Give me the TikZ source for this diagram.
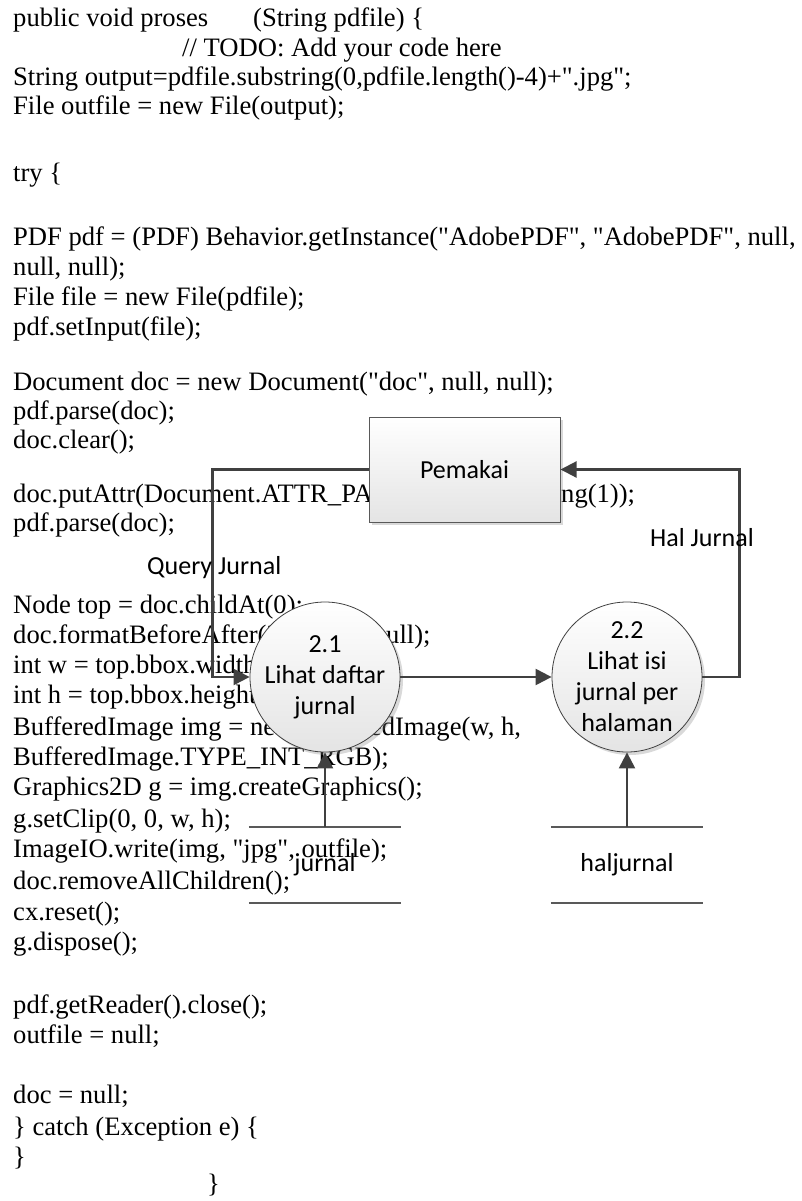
\documentclass[tikz,border=0pt]{standalone}
\usepackage{fontspec}
\setmainfont{Liberation Serif}[Ligatures=TeXOff]
\newfontfamily\dfdfont{Carlito}
\usetikzlibrary{arrows.meta,shadows}
\definecolor{cLine}{HTML}{404040}
\definecolor{cEdge}{HTML}{595959}
\definecolor{cFill}{HTML}{E4E4E4}
\tikzset{
  code/.style={anchor=base west, inner sep=0pt, font=\fontsize{26.6}{30}\selectfont},
  lbl/.style={anchor=base west, inner sep=0pt, font=\dfdfont\fontsize{26}{31}\selectfont},
  entity/.style={draw=cEdge, line width=1pt, top color=white, bottom color=cFill,
    minimum width=191pt, minimum height=105pt, font=\dfdfont\fontsize{26}{31}\selectfont,
    drop shadow={opacity=0.3, shadow xshift=3pt, shadow yshift=-3pt}},
  proc/.style={circle, draw=cLine, line width=0.8pt, top color=white, bottom color=cFill,
    minimum size=150pt, inner sep=0pt, align=center, font=\dfdfont\fontsize{26}{31}\selectfont,
    drop shadow={opacity=0.3, shadow xshift=3pt, shadow yshift=-3pt}},
  store/.style={minimum width=152pt, minimum height=76pt, inner sep=0pt,
    font=\dfdfont\fontsize{26}{31}\selectfont},
  rule/.style={draw=cEdge, line width=1.5pt},
  flow/.style={draw=cLine, line width=2.2pt, -{Triangle[length=16pt, width=16pt]}},
}
\begin{document}
\begin{tikzpicture}[x=1pt, y=-1pt]
    \useasboundingbox (0,0) rectangle (801,1201);
    % --- code listing behind the diagram ---
    \node[code] (c01)  at (13,27)   {public void proses};
    \node[code] (c01b) at (253,27)  {(String pdfile) \{};
    \node[code] (c02)  at (182,57)  {// TODO: Add your code here};
    \node[code] (c03)  at (13,86)   {String output=pdfile.substring(0,pdfile.length()-4)+".jpg";};
    \node[code] (c04)  at (13,115)  {File outfile = new File(output);};
    \node[code] (c05)  at (13,182)  {try \{};
    \node[code] (c06)  at (13,245)  {PDF pdf = (PDF) Behavior.getInstance("AdobePDF", "AdobePDF", null,};
    \node[code] (c07)  at (13,275)  {null, null);};
    \node[code] (c08)  at (13,305)  {File file = new File(pdfile);};
    \node[code] (c09)  at (13,335)  {pdf.setInput(file);};
    \node[code] (c10)  at (13,390)  {Document doc = new Document("doc", null, null);};
    \node[code] (c11)  at (13,419)  {pdf.parse(doc);};
    \node[code] (c12)  at (13,448)  {doc.clear();};
    \node[code] (c13)  at (13,502)  {doc.putAttr(Document.ATTR\_PAGE, Integer.toString(1));};
    \node[code] (c14)  at (13,531)  {pdf.parse(doc);};
    \node[code] (c15)  at (13,613)  {Node top = doc.childAt(0);};
    \node[code] (c16)  at (13,643)  {doc.formatBeforeAfter(200, 200, null);};
    \node[code] (c17)  at (13,673)  {int w = top.bbox.width;};
    \node[code] (c18)  at (13,703)  {int h = top.bbox.height;};
    \node[code] (c19)  at (13,735)  {BufferedImage img = new BufferedImage(w, h,};
    \node[code] (c20)  at (13,765)  {BufferedImage.TYPE\_INT\_RGB);};
    \node[code] (c21)  at (13,795)  {Graphics2D g = img.createGraphics();};
    \node[code] (c22)  at (13,827)  {g.setClip(0, 0, w, h);};
    \node[code] (c23)  at (13,857)  {ImageIO.write(img, "jpg", outfile);};
    \node[code] (c24)  at (13,889)  {doc.removeAllChildren();};
    \node[code] (c25)  at (13,920)  {cx.reset();};
    \node[code] (c26)  at (13,950)  {g.dispose();};
    \node[code] (c27)  at (13,1013) {pdf.getReader().close();};
    \node[code] (c28)  at (13,1043) {outfile = null;};
    \node[code] (c29)  at (13,1103) {doc = null;};
    \node[code] (c30)  at (13,1135) {\} catch (Exception e) \{};
    \node[code] (c31)  at (13,1165) {\}};
    \node[code] (c32)  at (207,1192) {\}};
    % --- DFD level 2 ---
    \node[entity] (pemakai) at (464.5,469.5) {Pemakai};
    \node[proc] (p21) at (325,677) {2.1\\Lihat daftar\\jurnal};
    \node[proc] (p22) at (627,677) {2.2\\Lihat isi\\jurnal per\\halaman};
    \node[store] (sj) at (325,865) {jurnal};
    \node[store] (sh) at (627,865) {haljurnal};
    \draw[rule] (sj.north west) -- (sj.north east);
    \draw[rule] (sj.south west) -- (sj.south east);
    \draw[rule] (sh.north west) -- (sh.north east);
    \draw[rule] (sh.south west) -- (sh.south east);
    % --- flows ---
    \draw[flow] (pemakai.west) -- ++(-156,0) |- (p21.west);
    \draw[flow] (p21) -- (p22);
    \draw[flow] (p22.east) -- ++(37,0) |- (pemakai.east);
    \draw[flow] (sj.north) -- (p21.south);
    \draw[flow] (sh.north) -- (p22.south);
    \node[lbl] (qj) at (147,574) {Query Jurnal};
    \node[lbl] (hj) at (650,546) {Hal Jurnal};
\end{tikzpicture}
\end{document}
